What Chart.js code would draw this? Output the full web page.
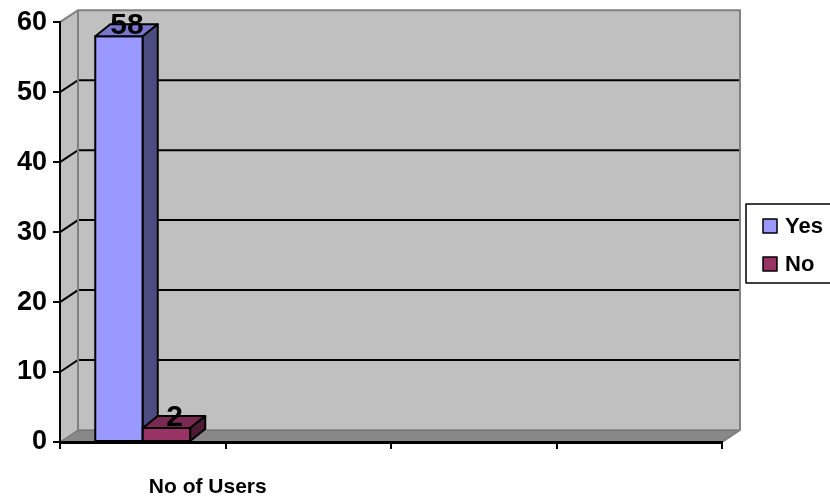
<!DOCTYPE html>
<html lang="en">
<head>
<meta charset="UTF-8">
<title>No of Users</title>
<script src="https://cdn.jsdelivr.net/npm/chart.js"></script>
<style>
  html, body { margin: 0; padding: 0; background: #fff; }
  #wrap { width: 830px; height: 500px; position: relative; }
</style>
</head>
<body>
<div id="wrap"><canvas id="chart"></canvas></div>
<script>
// chart data
const categories = ['No of Users', '', '', ''];
const seriesNames = ['Yes', 'No'];
const yesValues = [58, null, null, null];
const noValues = [2, null, null, null];
const yTicks = [0, 10, 20, 30, 40, 50, 60];

const FONT = '"Liberation Sans", Arial, sans-serif';

// colours per series: front, top, side
const faces = [
  { front: '#9999ff', top: '#7777cc', side: '#4c4c80' },
  { front: '#993366', top: '#7a2952', side: '#4d1a33' }
];

// depth of the walls and of the bars
const WALL = { dx: 18, dy: -12 };
const BAR = { dx: 15, dy: -12 };

function poly(ctx, pts, fill, stroke, lw) {
  ctx.beginPath();
  ctx.moveTo(pts[0][0], pts[0][1]);
  for (let i = 1; i < pts.length; i++) ctx.lineTo(pts[i][0], pts[i][1]);
  ctx.closePath();
  if (fill) { ctx.fillStyle = fill; ctx.fill(); }
  if (stroke) { ctx.strokeStyle = stroke; ctx.lineWidth = lw || 1; ctx.stroke(); }
}

// back wall, side wall, floor and wall gridlines
const walls = {
  id: 'walls',
  beforeDraw(chart) {
    const ctx = chart.ctx;
    const a = chart.chartArea;
    const y = chart.scales.y;
    const L = a.left, R = a.right, T = a.top, B = a.bottom;
    const dx = WALL.dx, dy = WALL.dy;
    ctx.save();
    // back wall
    poly(ctx, [[L + dx, T + dy], [R + dx, T + dy], [R + dx, B + dy], [L + dx, B + dy]], '#c0c0c0');
    // left wall
    poly(ctx, [[L, T], [L + dx, T + dy], [L + dx, B + dy], [L, B]], '#c0c0c0');
    // floor
    poly(ctx, [[L, B], [L + dx, B + dy], [R + dx, B + dy], [R, B]], '#888888', '#666666', 1);
    // gridlines
    ctx.strokeStyle = '#000';
    ctx.lineWidth = 2;
    yTicks.forEach(v => {
      if (v === 0 || v === yTicks[yTicks.length - 1]) return;
      const py = y.getPixelForValue(v);
      ctx.beginPath();
      ctx.moveTo(L, py);
      ctx.lineTo(L + dx, py + dy);
      ctx.lineTo(R + dx, py + dy);
      ctx.stroke();
    });
    // wall edges
    ctx.strokeStyle = '#808080';
    ctx.lineWidth = 2;
    ctx.beginPath();
    ctx.moveTo(L, T);
    ctx.lineTo(L + dx, T + dy);
    ctx.lineTo(R + dx, T + dy);
    ctx.lineTo(R + dx, B + dy);
    ctx.lineTo(R, B);
    ctx.moveTo(L + dx, T + dy);
    ctx.lineTo(L + dx, B + dy);
    ctx.stroke();
    ctx.restore();
  }
};

// 3D faces of the bars, value labels and the legend
const bars3d = {
  id: 'bars3d',
  afterDatasetsDraw(chart) {
    const ctx = chart.ctx;
    ctx.save();
    ctx.lineJoin = 'round';
    chart.data.datasets.forEach((ds, i) => {
      const meta = chart.getDatasetMeta(i);
      meta.data.forEach((el, j) => {
        const v = ds.data[j];
        if (v === null || v === undefined) return;
        const p = el.getProps(['x', 'y', 'base', 'width'], true);
        const l = p.x - p.width / 2, r = p.x + p.width / 2;
        const t = p.y, b = p.base;
        const f = faces[i];
        poly(ctx, [[l, t], [r, t], [r, b], [l, b]], f.front, '#000', 2);
        poly(ctx, [[l, t], [l + BAR.dx, t + BAR.dy], [r + BAR.dx, t + BAR.dy], [r, t]], f.top, '#000', 2);
        poly(ctx, [[r, t], [r + BAR.dx, t + BAR.dy], [r + BAR.dx, b + BAR.dy], [r, b]], f.side, '#000', 2);
      });
    });
    // value labels
    ctx.fillStyle = '#000';
    ctx.font = 'bold 30px ' + FONT;
    ctx.textAlign = 'center';
    ctx.textBaseline = 'alphabetic';
    chart.data.datasets.forEach((ds, i) => {
      const meta = chart.getDatasetMeta(i);
      meta.data.forEach((el, j) => {
        const v = ds.data[j];
        if (v === null || v === undefined) return;
        const p = el.getProps(['x', 'y'], true);
        ctx.fillText(String(v), p.x + 8, p.y - 2);
      });
    });
    // legend
    const lx = 746, ly = 204;
    poly(ctx, [[lx, ly], [lx + 100, ly], [lx + 100, ly + 79], [lx, ly + 79]], '#fff', '#000', 1.5);
    ctx.font = 'bold 22px ' + FONT;
    ctx.textAlign = 'left';
    ctx.textBaseline = 'middle';
    seriesNames.forEach((name, i) => {
      const cy = 226 + i * 38;
      poly(ctx, [[763, cy - 7], [777, cy - 7], [777, cy + 7], [763, cy + 7]], faces[i].front, '#000', 1.5);
      ctx.fillStyle = '#000';
      ctx.fillText(name, 785, cy + 1);
    });
    ctx.restore();
  }
};

new Chart(document.getElementById('chart'), {
  type: 'bar',
  data: {
    labels: categories,
    datasets: [
      { label: seriesNames[0], data: yesValues, backgroundColor: faces[0].front, borderColor: '#000', borderWidth: 2 },
      { label: seriesNames[1], data: noValues, backgroundColor: faces[1].front, borderColor: '#000', borderWidth: 2 }
    ]
  },
  options: {
    responsive: true,
    maintainAspectRatio: false,
    animation: false,
    layout: { padding: { top: 22, right: 108, left: 0, bottom: 0 } },
    datasets: { bar: { categoryPercentage: 0.574, barPercentage: 1 } },
    plugins: { legend: { display: false }, tooltip: { enabled: false } },
    scales: {
      x: {
        afterFit(s) { s.height = 58; },
        grid: { drawOnChartArea: false, drawTicks: true, tickLength: 7, color: '#000', lineWidth: 2, offset: true },
        border: { display: true, color: '#000', width: 3 },
        ticks: {
          color: '#000',
          font: { family: FONT, size: 21, weight: 'bold' },
          maxRotation: 0,
          autoSkip: false,
          labelOffset: 65,
          padding: 26
        }
      },
      y: {
        min: 0,
        max: 60,
        afterFit(s) { s.width = 60; },
        afterBuildTicks(s) { s.ticks = yTicks.map(v => ({ value: v })); },
        grid: { drawOnChartArea: false, drawTicks: true, tickLength: 7, color: '#000', lineWidth: 2 },
        border: { display: true, color: '#000', width: 2 },
        ticks: {
          color: '#000',
          font: { family: FONT, size: 27, weight: 'bold' },
          padding: 6
        }
      }
    }
  },
  plugins: [walls, bars3d]
});
</script>
</body>
</html>
